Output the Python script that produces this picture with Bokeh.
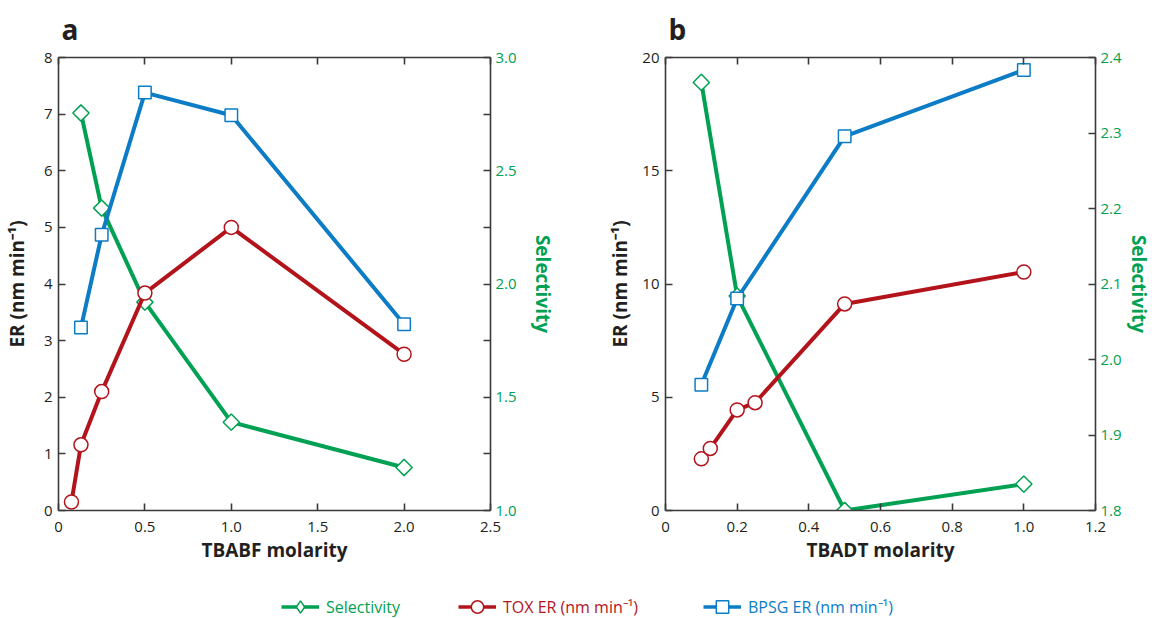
import math
from bokeh.plotting import figure
from bokeh.models import Range1d, LinearAxis, FixedTicker, Legend, LegendItem
from bokeh.layouts import column, row
from bokeh.embed import file_html
from bokeh.resources import INLINE

GREEN = "#00a152"
RED = "#b3141c"
BLUE = "#0b7cc5"
TEXT = "#231f20"
AXIS = "#3a3a3a"
FONT = "Open Sans"
NAN = float("nan")

# ---------------- Panel a (TBABF) ----------------
a_sel_x = [0.13, 0.25, 0.5, 1.0, 2.0]
a_sel_y = [2.755, 2.335, 1.92, 1.39, 1.19]
a_tox_x = [0.075, 0.13, 0.25, 0.5, 1.0, 2.0]
a_tox_y = [0.15, 1.16, 2.10, 3.84, 5.00, 2.76]
a_bpsg_x = [0.13, 0.25, 0.5, 1.0, 2.0]
a_bpsg_y = [3.23, 4.87, 7.38, 6.98, 3.29]

a_x_ticks = [0, 0.5, 1.0, 1.5, 2.0, 2.5]
a_x_labels = ["0", "0.5", "1.0", "1.5", "2.0", "2.5"]
a_er_ticks = [0, 1, 2, 3, 4, 5, 6, 7, 8]
a_er_labels = ["0", "1", "2", "3", "4", "5", "6", "7", "8"]
a_sel_ticks = [1.0, 1.5, 2.0, 2.5, 3.0]
a_sel_labels = ["1.0", "1.5", "2.0", "2.5", "3.0"]
a_sel_minor = [1.25, 1.75, 2.25, 2.75]

# ---------------- Panel b (TBADT) ----------------
b_sel_x = [0.1, 0.2, 0.5, 1.0]
b_sel_y = [2.367, 2.084, 1.80, 1.835]
b_tox_x = [0.1, 0.125, 0.2, 0.25, 0.5, 1.0]
b_tox_y = [2.28, 2.74, 4.44, 4.76, 9.12, 10.53]
b_bpsg_x = [0.1, 0.2, 0.5, 1.0]
b_bpsg_y = [5.55, 9.36, 16.52, 19.45]

b_x_ticks = [0, 0.2, 0.4, 0.6, 0.8, 1.0, 1.2]
b_x_labels = ["0", "0.2", "0.4", "0.6", "0.8", "1.0", "1.2"]
b_er_ticks = [0, 5, 10, 15, 20]
b_er_labels = ["0", "5", "10", "15", "20"]
b_sel_ticks = [1.8, 1.9, 2.0, 2.1, 2.2, 2.3, 2.4]
b_sel_labels = ["1.8", "1.9", "2.0", "2.1", "2.2", "2.3", "2.4"]
b_sel_minor = []

er_title = "ER (nm min\u207b\u00b9)"
legend_labels = ["Selectivity", "TOX ER (nm min\u207b\u00b9)", "BPSG ER (nm min\u207b\u00b9)"]


def style(ax, color=TEXT):
    ax.axis_line_color = AXIS
    ax.axis_line_width = 1.6
    ax.major_tick_line_color = AXIS
    ax.major_tick_line_width = 1.6
    ax.minor_tick_line_color = AXIS
    ax.minor_tick_line_width = 1.6
    ax.major_tick_in = 7
    ax.major_tick_out = 0
    ax.minor_tick_in = 7
    ax.minor_tick_out = 0
    ax.major_label_text_font = FONT
    ax.major_label_text_font_size = "15px"
    ax.major_label_text_color = color
    ax.axis_label_text_font = FONT
    ax.axis_label_text_font_size = "19px"
    ax.axis_label_text_font_style = "bold"
    ax.axis_label_text_color = color


def panel(letter, xlabel, x_ticks, x_labels, er_ticks, er_labels,
          sel_ticks, sel_labels, sel_minor, series, frame_w,
          bl, br, left_lab_standoff, right_lab_standoff):
    p = figure(frame_width=frame_w, frame_height=453,
               x_range=Range1d(x_ticks[0], x_ticks[-1]),
               y_range=Range1d(er_ticks[0], er_ticks[-1]),
               output_backend="svg", toolbar_location=None,
               min_border_left=bl, min_border_right=br,
               min_border_top=57, min_border_bottom=60,
               title=letter)
    p.title.text_font = FONT
    p.title.text_font_size = "28px"
    p.title.text_font_style = "bold"
    p.title.text_color = TEXT
    p.title.align = "left"
    p.title.vertical_align = "top"
    p.title.offset = 3
    p.title.standoff = 16
    p.extra_y_ranges = {"sel": Range1d(sel_ticks[0], sel_ticks[-1])}
    p.xgrid.visible = False
    p.ygrid.visible = False
    p.outline_line_color = None

    xb = p.xaxis[0]
    xb.ticker = FixedTicker(ticks=x_ticks)
    xb.major_label_overrides = dict(zip(x_ticks, x_labels))
    xb.axis_label = xlabel
    style(xb)
    xb.major_label_standoff = 11
    xb.axis_label_standoff = 2

    yl = p.yaxis[0]
    yl.ticker = FixedTicker(ticks=er_ticks)
    yl.major_label_overrides = dict(zip(er_ticks, er_labels))
    yl.axis_label = er_title
    style(yl)
    yl.major_label_standoff = 6
    yl.axis_label_standoff = left_lab_standoff

    xt = LinearAxis(ticker=FixedTicker(ticks=x_ticks))
    style(xt)
    xt.major_label_overrides = {t: "" for t in x_ticks}
    xt.major_label_text_font_size = "1px"
    xt.major_label_standoff = 0
    p.add_layout(xt, "above")

    yr = LinearAxis(y_range_name="sel",
                    ticker=FixedTicker(ticks=sel_ticks, minor_ticks=sel_minor),
                    axis_label="Selectivity")
    yr.major_label_overrides = dict(zip(sel_ticks, sel_labels))
    style(yr, GREEN)
    yr.major_label_standoff = 5
    yr.axis_label_standoff = right_lab_standoff
    p.add_layout(yr, "right")

    for (xs, ys, col, marker, size, angle, rn) in series:
        kw = {} if rn is None else {"y_range_name": rn}
        p.line(xs, ys, line_color=col, line_width=4, **kw)
        p.scatter(xs, ys, marker=marker, size=size, angle=angle,
                  fill_color="white", line_color=col, line_width=1.5, **kw)
    return p


pa = panel("a", "TBABF molarity", a_x_ticks, a_x_labels, a_er_ticks, a_er_labels,
           a_sel_ticks, a_sel_labels, a_sel_minor,
           [(a_sel_x, a_sel_y, GREEN, "square", 11.5, math.pi / 4, "sel"),
            (a_tox_x, a_tox_y, RED, "circle", 14, 0, None),
            (a_bpsg_x, a_bpsg_y, BLUE, "square", 12.5, 0, None)],
           432, 58, 114, 11, 10)

pb = panel("b", "TBADT molarity", b_x_ticks, b_x_labels, b_er_ticks, b_er_labels,
           b_sel_ticks, b_sel_labels, b_sel_minor,
           [(b_sel_x, b_sel_y, GREEN, "square", 11.5, math.pi / 4, "sel"),
            (b_tox_x, b_tox_y, RED, "circle", 14, 0, None),
            (b_bpsg_x, b_bpsg_y, BLUE, "square", 12.5, 0, None)],
           430, 60, 0, 6, 1)

# ---------------- Legend strip ----------------
pl = figure(width=1140, height=47, x_range=Range1d(0, 1), y_range=Range1d(0, 1),
            output_backend="svg", toolbar_location=None,
            x_axis_location=None, y_axis_location=None, min_border=0)
pl.xgrid.visible = False
pl.ygrid.visible = False
pl.outline_line_color = None

leg_colors = [GREEN, RED, BLUE]
leg_markers = ["diamond", "circle", "square"]
leg_x = [281, 458, 703]
for lab, col, mk, lx in zip(legend_labels, leg_colors, leg_markers, leg_x):
    rl = pl.line(x=[NAN], y=[NAN], line_color=col, line_width=3.5)
    rs = pl.scatter(x=[NAN], y=[NAN], marker=mk, size=12, fill_color="white",
                    line_color=col, line_width=1.5)
    leg = Legend(items=[LegendItem(label=lab, renderers=[rl, rs])],
                 location=(lx, -5), orientation="horizontal",
                 glyph_width=38, glyph_height=31, label_standoff=7,
                 padding=0, margin=0, spacing=0,
                 border_line_color=None, background_fill_alpha=0,
                 label_text_font=FONT, label_text_font_size="16px",
                 label_text_color=col)
    pl.add_layout(leg, "center")

layout = column(row(pa, pb), pl)
open("out.html", "w").write(file_html(layout, INLINE))
